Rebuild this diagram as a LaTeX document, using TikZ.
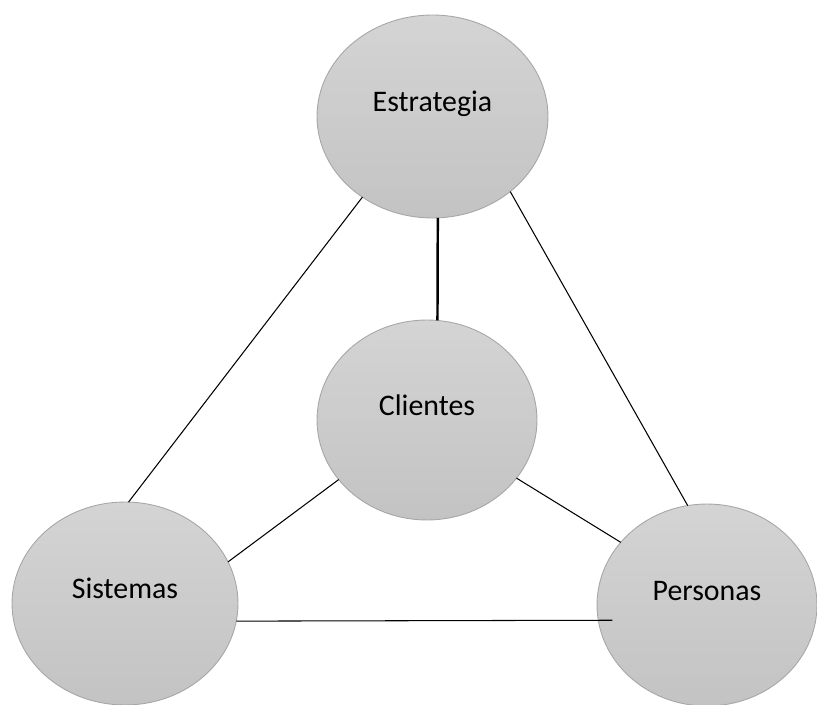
\documentclass[tikz,border=0pt]{standalone}
\usepackage{fontspec}
\setmainfont{Carlito}
\usepackage{tikz}
\usetikzlibrary{shapes.geometric,calc}
\definecolor{bubbletop}{HTML}{D4D4D4}
\definecolor{bubblebottom}{HTML}{C3C3C3}
\definecolor{bubbleedge}{HTML}{A6A6A6}
\tikzset{
    bubble/.style = {draw=bubbleedge, line width=0.5pt, ellipse,
        top color=bubbletop, bottom color=bubblebottom,
        minimum width=4.52cm, minimum height=4.06cm,
        inner sep=0pt, outer sep=0pt,
        text height=0.42cm, text depth=0.62cm,
        font=\fontsize{17}{20}\selectfont},
    link/.style = {draw, line width=0.6pt},
    thicklink/.style = {draw, line width=1.4pt},
}
\begin{document}
\begin{tikzpicture}[x=0.02cm, y=-0.02cm]
		\useasboundingbox (0,0) rectangle (817,705);
		% the four bubbles
		\node [bubble, minimum width=4.62cm] (estrategia) at (432.5,116.5) {Estrategia};
		\node [bubble, minimum width=4.4cm, minimum height=4cm] (clientes) at (427,420) {Clientes};
		\node [bubble] (sistemas) at (125,603.5) {Sistemas};
		\node [bubble, minimum width=4.4cm, minimum height=4.04cm] (personas) at (707,605) {Personas};
		
		%% connecting lines
		\draw [link] (estrategia.229) -- (sistemas.88);
		\draw [thicklink] (estrategia.273) -- (clientes.84);
		\draw [link] (estrategia.316) -- (personas.101);
		\draw [link] (clientes.214) -- (sistemas.22);
		\draw [link] (clientes.327) -- (personas.144);
		\draw [link, shorten >=-0.28cm] (sistemas.351) -- (personas.188);
	\end{tikzpicture}
\end{document}
